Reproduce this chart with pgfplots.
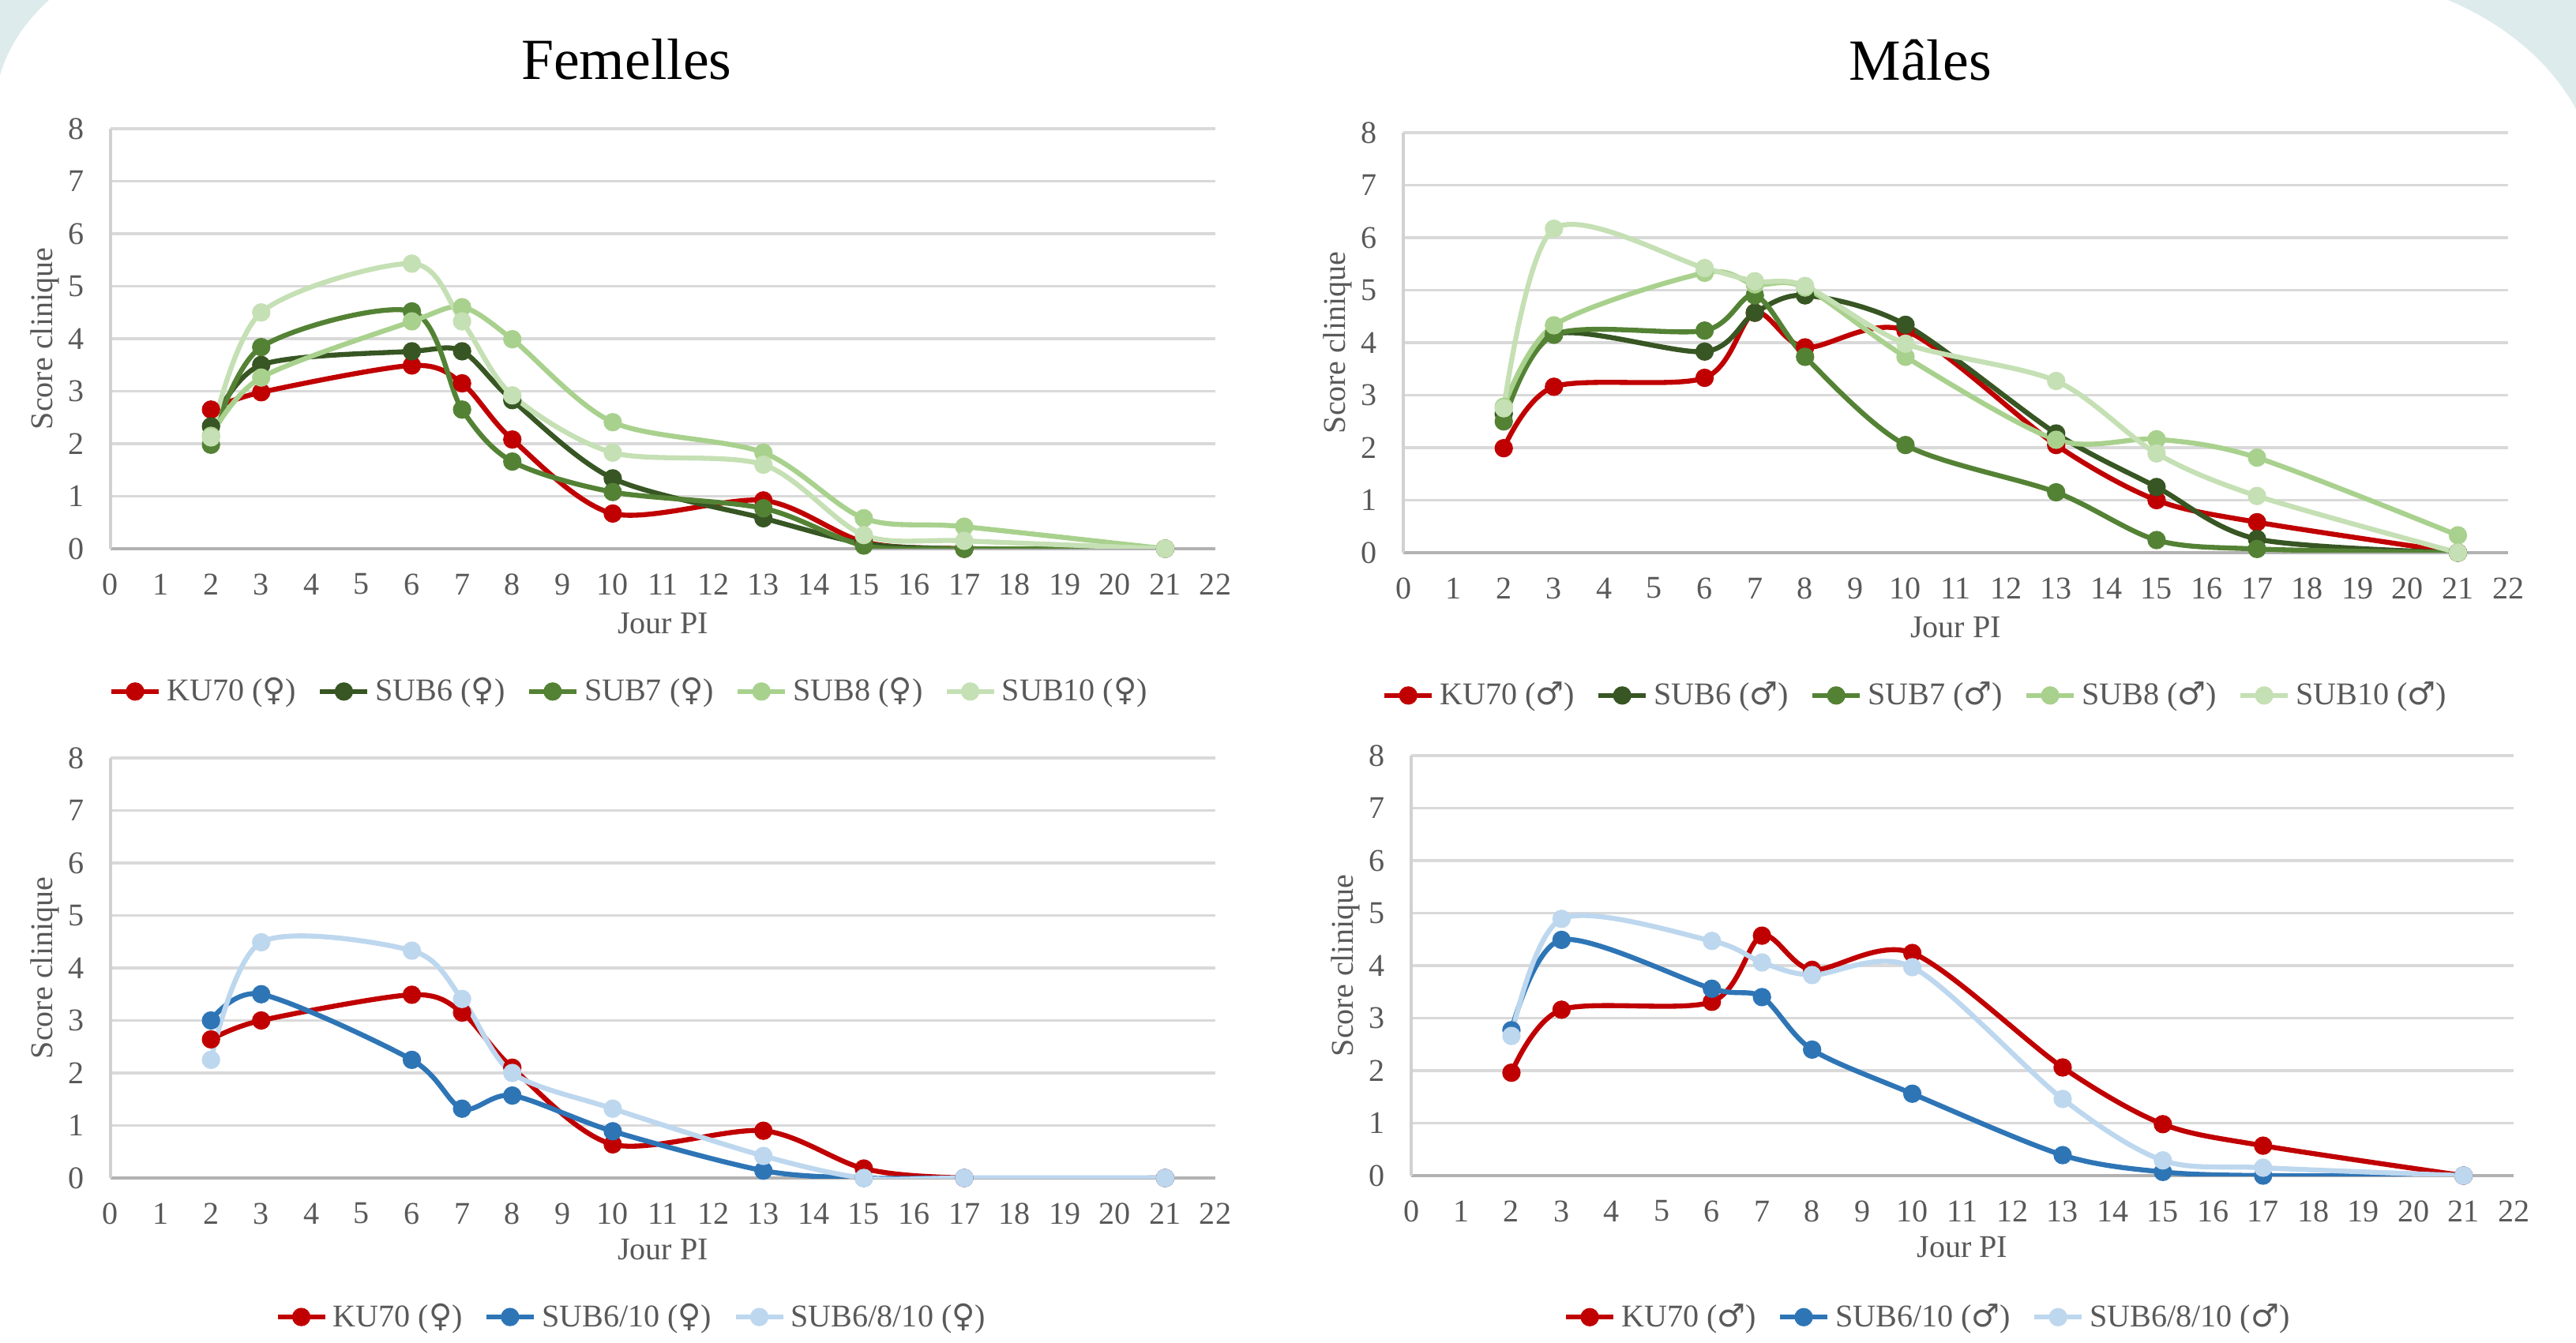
\documentclass[border=0pt]{standalone}
\usepackage{fontspec}
\setmainfont{Liberation Serif}
\newfontfamily\symf{DejaVu Sans}
\usepackage{pgfplots}
\pgfplotsset{compat=1.18}
\definecolor{cKU}{HTML}{C00000}
\definecolor{cS6}{HTML}{375623}
\definecolor{cS7}{HTML}{548235}
\definecolor{cS8}{HTML}{A9D18E}
\definecolor{cS10}{HTML}{C5E0B4}
\definecolor{cB1}{HTML}{2E75B6}
\definecolor{cB2}{HTML}{BDD7EE}
\definecolor{txt}{HTML}{595959}
\definecolor{bgteal}{HTML}{DDEBEC}
\newcommand{\fem}{{\symf\char"2640}}
\newcommand{\mal}{{\symf\char"2642}}
\pgfplotsset{
  panel/.style={
    scale only axis, width=13.99cm, height=5.32cm,
    xmin=0, xmax=22, ymin=0, ymax=8,
    xtick={0,...,22}, ytick={0,...,8},
    axis x line*=bottom, axis y line*=left,
    x axis line style={color=black!30, line width=1pt},
    y axis line style={color=black!18, line width=1pt},
    major tick length=0pt,
    ymajorgrids, grid style={color=black!15, line width=1pt},
    /pgf/number format/assume math mode=true,
    tick label style={font=\fontsize{11.4}{13.7}\selectfont, text=txt},
    xticklabel style={anchor=center, inner sep=0pt, yshift=-0.45cm},
    yticklabel style={anchor=east, inner sep=0pt, xshift=-0.33cm},
    label style={font=\fontsize{11.4}{13.7}\selectfont, text=txt},
    xlabel={Jour PI},
    ylabel={Score clinique},
    ylabel style={at={(axis description cs:-0.0593,0.5)}, anchor=center},
    title style={font=\fontsize{21}{25}\selectfont, text=black, anchor=center},
    legend style={draw=none, fill=none, legend columns=-1, anchor=center,
      font=\fontsize{11.4}{13.7}\selectfont, text=txt,
      /tikz/every even column/.append style={column sep=0.2cm},
      inner sep=0pt},
    legend cell align=left,
    every axis plot/.append style={smooth, line width=1.8pt, mark=*, mark size=2.4pt},
  },
}
\begin{document}
\begin{tikzpicture}
\useasboundingbox (0,0) rectangle (32.62,17);
\fill[bgteal] (31.0,17) .. controls (31.75,16.68) and (32.3,16.2) .. (32.62,15.62) -- (32.62,17) -- cycle;
\fill[bgteal] (0,16.05) .. controls (0.12,16.45) and (0.35,16.75) .. (0.62,17) -- (0,17) -- cycle;

% Top-left: Femelles
\begin{axis}[panel, at={(1.40cm,10.05cm)}, anchor=south west,
  title={Femelles}, title style={at={(axis description cs:0.467,1.126)}},
  xlabel style={at={(axis description cs:0.5,-0.178)}, anchor=center},
  legend style={at={(axis description cs:0.471,-0.34)}}]
\addplot[color=cKU, mark options={fill=cKU}] coordinates {(2,2.65)(3,2.98)(6,3.49)(7,3.15)(8,2.08)(10,0.67)(13,0.92)(15,0.13)(17,0)(21,0)};
\addplot[color=cS6, mark options={fill=cS6}] coordinates {(2,2.33)(3,3.5)(6,3.76)(7,3.76)(8,2.83)(10,1.34)(13,0.58)(15,0.1)(17,0)(21,0)};
\addplot[color=cS7, mark options={fill=cS7}] coordinates {(2,1.98)(3,3.84)(6,4.52)(7,2.65)(8,1.66)(10,1.08)(13,0.77)(15,0.06)(17,0)(21,0)};
\addplot[color=cS8, mark options={fill=cS8}] coordinates {(2,2.15)(3,3.26)(6,4.33)(7,4.6)(8,3.99)(10,2.41)(13,1.83)(15,0.58)(17,0.42)(21,0)};
\addplot[color=cS10, mark options={fill=cS10}] coordinates {(2,2.12)(3,4.5)(6,5.43)(7,4.33)(8,2.92)(10,1.83)(13,1.6)(15,0.26)(17,0.15)(21,0)};
\legend{KU70 (\fem), SUB6 (\fem), SUB7 (\fem), SUB8 (\fem), SUB10 (\fem)}
\end{axis}

% Top-right: Males
\begin{axis}[panel, at={(17.77cm,10.00cm)}, anchor=south west,
  title={Mâles}, title style={at={(axis description cs:0.468,1.132)}},
  xlabel style={at={(axis description cs:0.5,-0.178)}, anchor=center},
  legend style={at={(axis description cs:0.465,-0.34)}}]
\addplot[color=cKU, mark options={fill=cKU}] coordinates {(2,1.99)(3,3.16)(6,3.33)(7,4.57)(8,3.91)(10,4.23)(13,2.05)(15,1.0)(17,0.58)(21,0)};
\addplot[color=cS6, mark options={fill=cS6}] coordinates {(2,2.65)(3,4.16)(6,3.83)(7,4.57)(8,4.9)(10,4.34)(13,2.27)(15,1.25)(17,0.26)(21,0)};
\addplot[color=cS7, mark options={fill=cS7}] coordinates {(2,2.5)(3,4.15)(6,4.23)(7,4.9)(8,3.73)(10,2.05)(13,1.15)(15,0.24)(17,0.07)(21,0)};
\addplot[color=cS8, mark options={fill=cS8}] coordinates {(2,2.78)(3,4.33)(6,5.33)(7,5.11)(8,5.05)(10,3.73)(13,2.15)(15,2.16)(17,1.81)(21,0.33)};
\addplot[color=cS10, mark options={fill=cS10}] coordinates {(2,2.75)(3,6.17)(6,5.42)(7,5.17)(8,5.08)(10,3.98)(13,3.27)(15,1.89)(17,1.08)(21,0)};
\legend{KU70 (\mal), SUB6 (\mal), SUB7 (\mal), SUB8 (\mal), SUB10 (\mal)}
\end{axis}

% Bottom-left: Femelles
\begin{axis}[panel, at={(1.40cm,2.08cm)}, anchor=south west,
  xlabel style={at={(axis description cs:0.5,-0.171)}, anchor=center},
  legend style={at={(axis description cs:0.473,-0.331)}}]
\addplot[color=cKU, mark options={fill=cKU}] coordinates {(2,2.64)(3,3.0)(6,3.49)(7,3.15)(8,2.1)(10,0.64)(13,0.9)(15,0.18)(17,0)(21,0)};
\addplot[color=cB1, mark options={fill=cB1}] coordinates {(2,3.0)(3,3.5)(6,2.25)(7,1.32)(8,1.57)(10,0.89)(13,0.14)(15,0)(17,0)(21,0)};
\addplot[color=cB2, mark options={fill=cB2}] coordinates {(2,2.25)(3,4.49)(6,4.33)(7,3.41)(8,2.0)(10,1.32)(13,0.42)(15,0)(17,0)(21,0)};
\legend{KU70 (\fem), SUB6/10 (\fem), SUB6/8/10 (\fem)}
\end{axis}

% Bottom-right: Males
\begin{axis}[panel, at={(17.87cm,2.11cm)}, anchor=south west, width=13.96cm,
  xlabel style={at={(axis description cs:0.5,-0.171)}, anchor=center},
  legend style={at={(axis description cs:0.47,-0.337)}}]
\addplot[color=cKU, mark options={fill=cKU}] coordinates {(2,1.96)(3,3.16)(6,3.31)(7,4.57)(8,3.92)(10,4.24)(13,2.06)(15,0.98)(17,0.57)(21,0)};
\addplot[color=cB1, mark options={fill=cB1}] coordinates {(2,2.77)(3,4.49)(6,3.56)(7,3.4)(8,2.4)(10,1.56)(13,0.39)(15,0.07)(17,0)(21,0)};
\addplot[color=cB2, mark options={fill=cB2}] coordinates {(2,2.66)(3,4.89)(6,4.47)(7,4.06)(8,3.82)(10,3.97)(13,1.46)(15,0.29)(17,0.15)(21,0)};
\legend{KU70 (\mal), SUB6/10 (\mal), SUB6/8/10 (\mal)}
\end{axis}
\end{tikzpicture}
\end{document}
